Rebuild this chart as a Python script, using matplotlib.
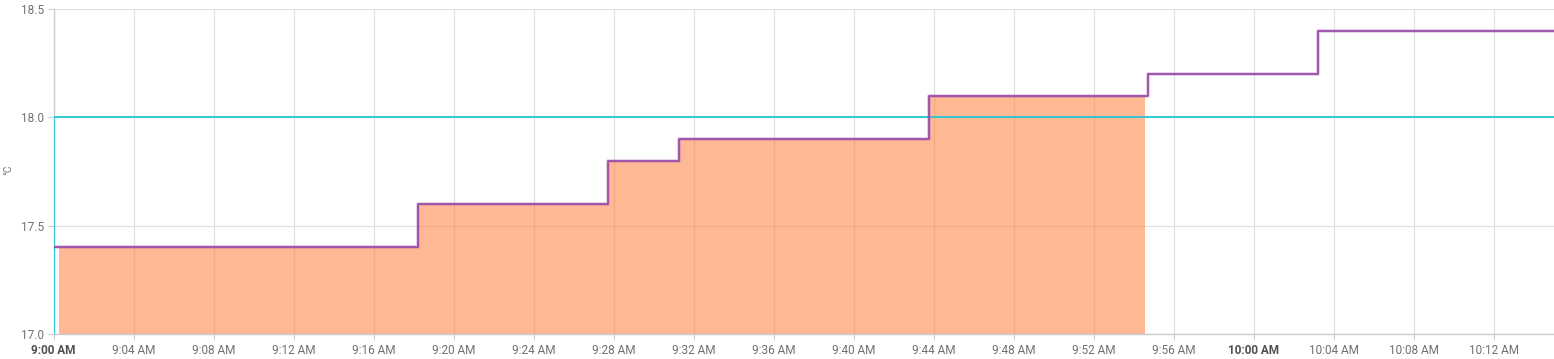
import numpy as np
import pandas as pd
import matplotlib
matplotlib.use('Agg')
import matplotlib.pyplot as plt
import matplotlib.dates as mdates
from matplotlib.ticker import FuncFormatter

plt.rcParams['font.family'] = ['Roboto', 'DejaVu Sans']

day = '2024-01-01 '

# Current temperature (step changes)
temp_times = ['9:00:00', '9:18:12', '9:27:42', '9:31:15', '9:43:45', '9:54:42', '10:03:12', '10:15:00']
temp_values = [17.4, 17.6, 17.8, 17.9, 18.1, 18.2, 18.4, 18.4]

# Target temperature
target_times = ['9:00:00', '9:00:00', '10:15:00']
target_values = [16.0, 18.0, 18.0]

# Heating active period
heat_start = '9:00:15'
heat_end = '9:54:33'

t_temp = pd.to_datetime([day + t for t in temp_times])
t_target = pd.to_datetime([day + t for t in target_times])
h0 = pd.Timestamp(day + heat_start)
h1 = pd.Timestamp(day + heat_end)

fig = plt.figure(figsize=(15.54, 3.59), dpi=100)
ax = fig.add_axes([53.5 / 1554, 25 / 359, 1 - 53.5 / 1554, 325 / 359])

# heating fill, follows current temperature
mask = (t_temp > h0) & (t_temp < h1)
fx = [h0] + list(t_temp[mask]) + [h1]
idx = np.searchsorted(t_temp, h0, side='right') - 1
fy = [temp_values[idx]] + list(np.array(temp_values)[mask])
fy = fy + [fy[-1]]
ax.fill_between(fx, 17.0, fy, step='post', color='#ff7f3c', alpha=0.55, lw=0, zorder=2)

ax.step(t_target, target_values, where='post', color='#22c7d6', lw=1.3, zorder=3)
ax.step(t_temp, temp_values, where='post', color='#9b4dab', lw=2.6, alpha=0.3, zorder=4)
ax.step(t_temp, temp_values, where='post', color='#9b4dab', lw=1.3, zorder=5)

ax.set_xlim(pd.Timestamp(day + '9:00:00'), pd.Timestamp(day + '10:15:00'))
ax.set_ylim(17.0, 18.5)
ax.set_yticks([17.0, 17.5, 18.0, 18.5])
ax.yaxis.set_major_formatter(FuncFormatter(lambda v, p: '%.1f' % v))

ax.xaxis.set_major_locator(mdates.MinuteLocator(byminute=range(0, 60, 4)))


def fmt_time(v, p):
    d = mdates.num2date(v)
    h = d.hour % 12 or 12
    return '%d:%02d %s' % (h, d.minute, 'AM' if d.hour < 12 else 'PM')


ax.xaxis.set_major_formatter(FuncFormatter(fmt_time))

ax.grid(True, color='#e0e0e0', lw=0.9, zorder=1)
for s in ['top', 'right']:
    ax.spines[s].set_visible(False)
for s in ['left', 'bottom']:
    ax.spines[s].set_color('#cccccc')
    ax.spines[s].set_linewidth(1)
ax.tick_params(axis='both', colors='#cccccc', labelcolor='#707070', labelsize=8.5, length=4, width=0.8)
ax.tick_params(axis='x', pad=3)
ax.tick_params(axis='y', pad=3)

fig.canvas.draw()
for lbl in ax.get_xticklabels():
    if ':00 ' in lbl.get_text():
        lbl.set_fontweight('bold')
        lbl.set_color('#505050')

fig.text(8 / 1554, 1 - 170 / 359, '°C', rotation=90, fontsize=7.5, color='#707070', ha='center', va='center')

fig.savefig('out.png', dpi=100)
